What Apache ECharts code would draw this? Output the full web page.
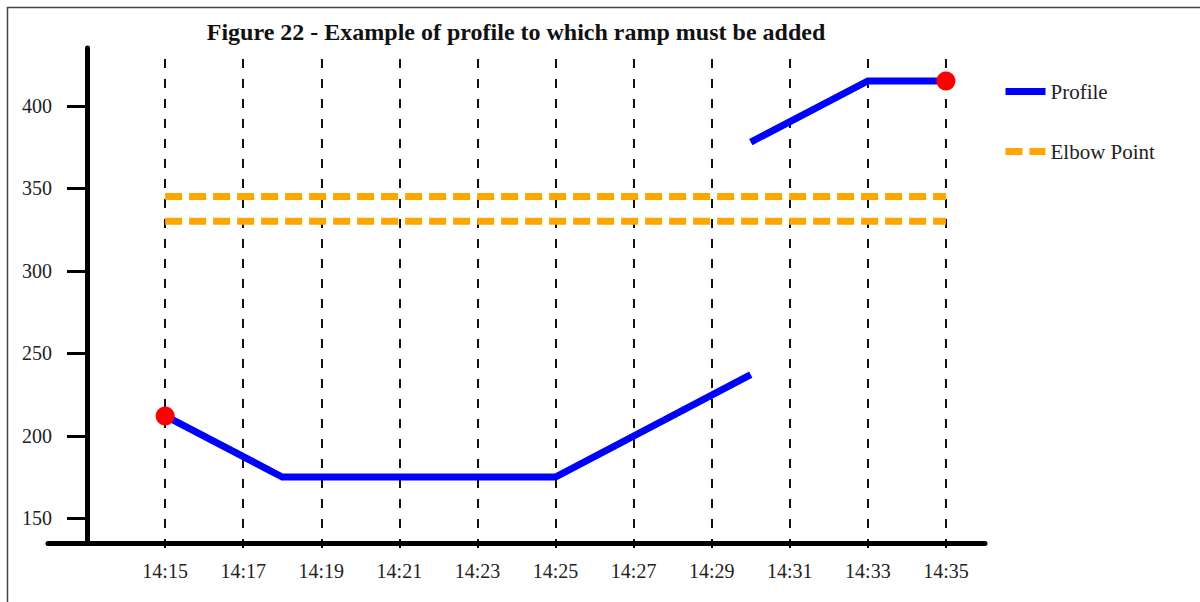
<!DOCTYPE html>
<html>
<head>
<meta charset="utf-8">
<script src="https://cdn.jsdelivr.net/npm/echarts@6/dist/echarts.min.js"></script>
<style>
html,body{margin:0;padding:0;background:#fff;}
#chart{width:1200px;height:602px;}
</style>
</head>
<body>
<div id="chart"></div>
<script>
// ---- data ----
const titleText = 'Figure 22 - Example of profile to which ramp must be added';
const xTickLabels = ['14:15','14:17','14:19','14:21','14:23','14:25','14:27','14:29','14:31','14:33','14:35'];
const yTickValues = [150, 200, 250, 300, 350, 400];
const profileSeg1Times = ['14:15','14:18','14:25','14:30'];
const profileSeg1Values = [212, 175, 175, 237];
const profileSeg2Times = ['14:30','14:33','14:35'];
const profileSeg2Values = [378, 415, 415];
const elbowTimes = ['14:15','14:35'];
const elbowUpperValues = [345, 345];
const elbowLowerValues = [330, 330];
const endpointTimes = ['14:15','14:35'];
const endpointValues = [212, 415];
const xRange = ['14:12','14:36'];
const yRange = [135, 435];

// ---- helpers ----
function toMin(t){ const p = t.split(':'); return (+p[0])*60 + (+p[1]); }
function fmt(m){ const h = Math.floor(m/60), mm = m%60; return h + ':' + (mm<10?'0':'') + mm; }
function pairs(times, vals){ return times.map((t,i)=>[toMin(t), vals[i]]); }

const FONT = 'Liberation Serif';
const chart = echarts.init(document.getElementById('chart'), null, {renderer:'svg'});

const profileLine = {color:'#0000ff', width:7, cap:'butt', join:'miter'};
const elbowLine = {color:'#ffa500', width:7, type:[17,7], cap:'butt'};

chart.setOption({
  animation:false,
  backgroundColor:'#fff',
  graphic:[
    {type:'rect', shape:{x:7.5, y:7.5, width:1400, height:800}, style:{fill:'none', stroke:'#444', lineWidth:1.5}, z:-10},
    {type:'text', x:516, y:32, style:{text:titleText, font:'bold 24px "Liberation Serif"', fill:'#111', textAlign:'center', textVerticalAlign:'middle'}}
  ],
  legend:{
    orient:'vertical', left:1002, top:81, padding:0,
    itemWidth:40, itemHeight:20, itemGap:39,
    data:['Profile','Elbow Point'],
    itemStyle:{color:'rgba(0,0,0,0)', borderWidth:0, opacity:0},
    lineStyle:{width:7},
    textStyle:{fontFamily:FONT, fontSize:21, color:'#222'}
  },
  grid:{left:48, right:215, top:48, bottom:59, containLabel:false},
  xAxis:{
    type:'value', min:toMin(xRange[0]), max:toMin(xRange[1]),
    axisLine:{show:true, lineStyle:{color:'#000', width:5}},
    axisTick:{show:true, customValues:xTickLabels.map(toMin), length:5, lineStyle:{color:'#000', width:2}},
    axisLabel:{customValues:xTickLabels.map(toMin), formatter:v=>fmt(v), fontFamily:FONT, fontSize:20, color:'#222', margin:18},
    splitLine:{show:true, lineStyle:{color:'#111', width:2, type:[9,11], dashOffset:9}}
  },
  yAxis:{
    type:'value', min:yRange[0], max:yRange[1], offset:-39,
    axisLine:{show:true, lineStyle:{color:'#000', width:5}},
    axisTick:{show:true, customValues:yTickValues, length:20, lineStyle:{color:'#000', width:3}},
    axisLabel:{customValues:yTickValues, fontFamily:FONT, fontSize:20, color:'#222', margin:35},
    splitLine:{show:false}
  },
  series:[
    {name:'Elbow Point', type:'line', data:pairs(elbowTimes, elbowUpperValues), showSymbol:false, symbol:'none', lineStyle:elbowLine, itemStyle:{color:'#ffa500'}, z:3},
    {name:'Elbow Point', type:'line', data:pairs(elbowTimes, elbowLowerValues), showSymbol:false, symbol:'none', lineStyle:elbowLine, itemStyle:{color:'#ffa500'}, z:3},
    {name:'Profile', type:'line', data:pairs(profileSeg1Times, profileSeg1Values), showSymbol:false, symbol:'none', lineStyle:profileLine, itemStyle:{color:'#0000ff'}, z:4},
    {name:'Profile', type:'line', data:pairs(profileSeg2Times, profileSeg2Values), showSymbol:false, symbol:'none', lineStyle:profileLine, itemStyle:{color:'#0000ff'}, z:4},
    {name:'endpoints', type:'scatter', data:pairs(endpointTimes, endpointValues), symbolSize:19, itemStyle:{color:'#ff0000', opacity:1}, z:5}
  ]
});
</script>
</body>
</html>
